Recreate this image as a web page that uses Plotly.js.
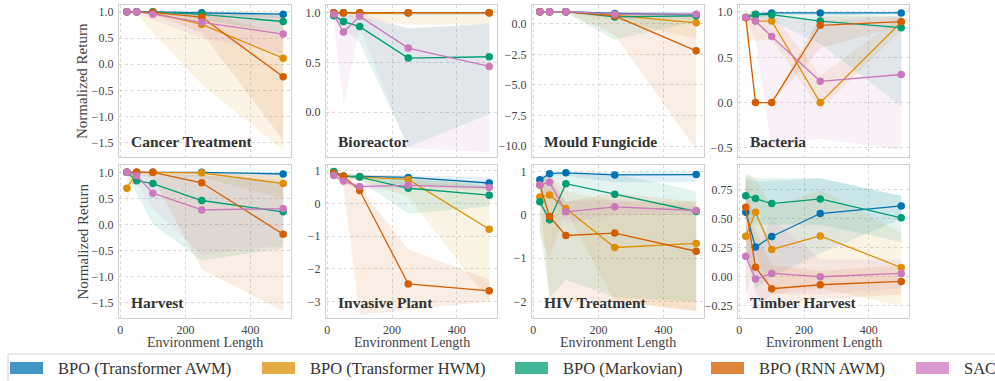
<!DOCTYPE html>
<html>
<head>
<meta charset="utf-8">
<script src="https://cdn.plot.ly/plotly-3.0.1.min.js"></script>
<style>
html,body{margin:0;padding:0;background:#fff;}
#chart{width:995px;height:381px;}
</style>
</head>
<body>
<div id="chart"></div>
<script>
// ---------- data ----------
const envLengths = [20, 50, 100, 250, 500];
const methods = ["BPO (Transformer AWM)", "BPO (Transformer HWM)", "BPO (Markovian)", "BPO (RNN AWM)", "SAC"];
const colors = ["#0173b2", "#de8f05", "#029e73", "#d55e00", "#cc78bc"];
const envNames = ["Cancer Treatment", "Bioreactor", "Mould Fungicide", "Bacteria",
                  "Harvest", "Invasive Plant", "HIV Treatment", "Timber Harvest"];
const xTicks = [0, 200, 400];

// order of rows in each table: AWM, HWM, Markovian, RNN AWM, SAC
const cancerMean = [[1.0,1.0,1.0,0.98,0.955],[1.0,1.0,0.98,0.76,0.115],[1.0,1.0,1.0,0.95,0.815],[1.0,1.0,0.99,0.90,-0.24],[1.0,1.0,0.955,0.80,0.575]];
const cancerLo   = [[0.99,0.99,0.99,0.93,0.88],[0.99,0.97,0.6,-0.38,-1.64],[0.99,0.99,0.97,0.85,0.6],[0.99,0.99,0.95,0.6,-1.45],[0.99,0.98,0.85,0.5,0.2]];
const cancerHi   = [[1,1,1,1,0.99],[1,1,1,1,0.58],[1,1,1,1,0.97],[1,1,1,1,0.95],[1,1,1,1,0.9]];

const bioMean = [[1,1,1,1,1],[1,1,0.99,1.0,1.0],[0.97,0.91,0.86,0.544,0.557],[1,1,1,1,1],[0.983,0.805,0.963,0.644,0.46]];
const bioLo   = [[0.99,0.99,0.98,0.98,0.98],[0.98,0.97,0.93,0.88,0.88],[0.93,0.85,0.7,-0.35,-0.02],[0.99,0.99,0.99,0.98,0.98],[0.93,0.08,0.85,-0.36,-0.4]];
const bioHi   = [[1,1,1,1,1],[1,1,1,1,1],[1,0.98,0.96,0.84,0.89],[1,1,1,1,1],[1,1,1,0.84,0.88]];

const mouldMean = [[1,1,1,0.86,0.74],[1,1,0.99,0.71,0.09],[1,1,1,0.57,0.66],[1,1,1,0.66,-2.2],[1,1,1,0.8,0.8]];
const mouldLo   = [[0.99,0.99,0.98,0.6,0.5],[0.99,0.98,0.95,0.3,-1.2],[0.99,0.98,0.9,-1.3,0.2],[0.99,0.99,0.95,-0.9,-10.3],[0.99,0.99,0.98,0.55,0.6]];
const mouldHi   = [[1,1,1,1,1],[1,1,1,0.98,0.9],[1,1,1,0.95,0.95],[1,1,1,0.95,0.8],[1,1,1,0.95,0.95]];

const bactMean = [[0.94,0.97,0.99,0.99,0.99],[0.94,0.9,0.9,0.0,0.89],[0.94,0.974,0.97,0.9,0.827],[0.94,0.0,0.0,0.853,0.893],[0.94,0.9,0.73,0.235,0.31]];
const bactLo   = [[0.9,0.93,0.97,0.97,0.97],[0.7,0.68,0.7,-0.08,0.8],[0.9,0.93,0.9,0.65,-0.04],[0.9,0.0,0.0,0.6,0.85],[0.88,0.7,-0.5,-0.4,-0.52]];
const bactHi   = [[0.97,1,1,1,1],[1,1,1,0.3,0.95],[0.97,1,1,1,0.95],[0.97,0.0,0.0,0.95,0.95],[0.97,1,0.98,0.9,0.95]];

const harvMean = [[1,1,1,1,0.968],[0.695,1,1,0.99,0.784],[1,0.84,0.784,0.46,0.243],[1,1,1,0.8,-0.185],[1,0.936,0.6,0.28,0.306]];
const harvLo   = [[0.99,0.99,0.99,0.97,0.9],[0.4,0.98,0.97,0.9,0.5],[0.99,0.6,0.0,-0.69,-0.45],[0.99,0.97,0.9,-0.86,-1.66],[0.99,0.8,0.3,-0.58,-0.4]];
const harvHi   = [[1,1,1,1,1],[0.95,1,1,1,0.95],[1,0.98,0.98,0.95,0.85],[1,1,1,1,0.9],[1,1,0.95,0.95,0.8]];

const invMean = [[0.95,0.83,0.82,0.79,0.62],[0.9,0.83,0.8,0.73,-0.79],[0.97,0.83,0.80,0.46,0.25],[0.92,0.83,0.39,-2.46,-2.67],[0.85,0.68,0.51,0.55,0.48]];
const invLo   = [[0.9,0.78,0.75,0.55,0.45],[0.85,0.75,0.7,0.2,-3.0],[0.93,0.78,0.7,-0.32,-0.1],[0.88,0.5,-3.4,-3.25,-3.0],[0.8,0.6,0.4,0.45,0.4]];
const invHi   = [[0.98,0.88,0.88,0.85,0.8],[0.95,0.9,0.87,0.85,0.5],[0.99,0.88,0.87,0.75,0.6],[0.95,0.88,0.5,-1.4,-2.33],[0.9,0.75,0.6,0.65,0.55]];

const hivMean = [[0.81,0.95,0.97,0.92,0.93],[0.41,0.46,0.146,-0.754,-0.66],[0.3,-0.115,0.72,0.477,0.077],[0.69,-0.04,-0.477,-0.42,-0.84],[0.69,0.75,0.07,0.185,0.1]];
const hivLo   = [[0.7,0.9,0.9,0.75,0.75],[-0.5,-1.0,0.1,-2.0,-2.2],[-0.3,-1.92,-1.5,-1.9,-2.0],[0.5,-1.9,-2.0,-2.0,-2.23],[0.5,0.5,-0.2,0.0,0.0]];
const hivHi   = [[0.9,1.0,0.99,0.99,0.99],[0.9,0.9,0.55,0.3,0.3],[0.8,0.9,0.95,0.95,0.55],[0.85,0.8,0.3,0.5,0.3],[0.85,0.95,0.3,0.35,0.2]];

const timbMean = [[0.557,0.256,0.348,0.546,0.612],[0.35,0.557,0.236,0.353,0.08],[0.70,0.675,0.632,0.672,0.509],[0.60,0.083,-0.103,-0.069,-0.04],[0.178,-0.02,0.029,0.0,0.029]];
const timbLo   = [[0.2,-0.1,0.0,0.2,0.5],[-0.18,0.2,-0.15,-0.1,-0.25],[0.5,0.45,0.45,0.45,0.3],[0.3,-0.15,-0.25,-0.2,-0.15],[-0.1,-0.3,-0.15,-0.15,-0.1]];
const timbHi   = [[0.85,0.82,0.83,0.85,0.70],[0.9,0.85,0.6,0.75,0.38],[0.88,0.85,0.85,0.85,0.7],[0.88,0.4,0.1,0.05,0.1],[0.45,0.2,0.5,0.15,0.15]];

// ---------- layout helpers ----------
const W = 995, H = 381;
const colPx = [[119,291],[326,497],[532,704],[738,909]];
const rowPx = [[5,157],[165,318]];
const FONT = "Liberation Serif";

const envs = [
  {mean:cancerMean, lo:cancerLo, hi:cancerHi, range:[-1.77,1.13], dtick:0.5, fmt:'.1f'},
  {mean:bioMean, lo:bioLo, hi:bioHi, range:[-0.45,1.077], dtick:0.5, fmt:'.1f'},
  {mean:mouldMean, lo:mouldLo, hi:mouldHi, range:[-10.9,1.55], dtick:2.5, fmt:'.1f'},
  {mean:bactMean, lo:bactLo, hi:bactHi, range:[-0.6,1.077], dtick:0.5, fmt:'.1f'},
  {mean:harvMean, lo:harvLo, hi:harvHi, range:[-1.79,1.14], dtick:0.5, fmt:'.1f'},
  {mean:invMean, lo:invLo, hi:invHi, range:[-3.5,1.17], dtick:1, fmt:'d'},
  {mean:hivMean, lo:hivLo, hi:hivHi, range:[-2.38,1.15], dtick:1, fmt:'d'},
  {mean:timbMean, lo:timbLo, hi:timbHi, range:[-0.356,0.965], dtick:0.25, fmt:'.2f'}
];

function rgba(hex, a){
  const r=parseInt(hex.slice(1,3),16), g=parseInt(hex.slice(3,5),16), b=parseInt(hex.slice(5,7),16);
  return `rgba(${r},${g},${b},${a})`;
}

const fillTraces = [], lineTraces = [];
const layout = {
  width: W, height: H,
  margin: {l:0, r:0, t:0, b:0},
  paper_bgcolor: '#fff', plot_bgcolor: '#fff',
  showlegend: false,
  font: {family: FONT, color: '#333'},
  annotations: [], shapes: []
};

envs.forEach((env, i) => {
  const k = i + 1;
  const row = Math.floor(i / 4), col = i % 4;
  const xa = k === 1 ? 'x' : 'x' + k, ya = k === 1 ? 'y' : 'y' + k;
  const xName = k === 1 ? 'xaxis' : 'xaxis' + k, yName = k === 1 ? 'yaxis' : 'yaxis' + k;
  layout[xName] = {
    domain: [colPx[col][0]/W, colPx[col][1]/W], anchor: ya,
    range: [-4, 524], tickvals: xTicks, showticklabels: row === 1,
    tickfont: {family: FONT, size: 12, color: '#444'},
    showgrid: true, gridcolor: '#cfcfcf', griddash: 'dot', gridwidth: 0.8,
    zeroline: false, showline: true, mirror: true, linecolor: '#d0d0d0', linewidth: 1.2,
    ticks: '', ticklabelstandoff: 0, fixedrange: true
  };
  layout[yName] = {
    domain: [1 - rowPx[row][1]/H, 1 - rowPx[row][0]/H], anchor: xa,
    range: env.range, dtick: env.dtick, tick0: 0, tickformat: env.fmt,
    tickfont: {family: FONT, size: 12, color: '#444'},
    showgrid: true, gridcolor: '#cfcfcf', griddash: 'dot', gridwidth: 0.8,
    zeroline: false, showline: true, mirror: true, linecolor: '#d0d0d0', linewidth: 1.2,
    ticks: '', ticklabelstandoff: 2, fixedrange: true
  };
  methods.forEach((m, j) => {
    fillTraces.push({
      type: 'scatter', mode: 'none', xaxis: xa, yaxis: ya,
      x: envLengths.concat(envLengths.slice().reverse()),
      y: env.hi[j].concat(env.lo[j].slice().reverse()),
      fill: 'toself', fillcolor: rgba(colors[j], 0.11),
      line: {width: 0}, hoverinfo: 'skip', name: m
    });
    lineTraces.push({
      type: 'scatter', mode: 'lines+markers', xaxis: xa, yaxis: ya,
      x: envLengths, y: env.mean[j], name: m,
      line: {color: colors[j], width: 1.3},
      marker: {color: colors[j], size: 7.5}
    });
  });
  layout.annotations.push({
    xref: xa + ' domain', yref: ya + ' domain', x: 0.06, y: 0.1,
    xanchor: 'left', yanchor: 'middle', showarrow: false,
    text: '<b>' + envNames[i] + '</b>',
    font: {family: FONT, size: 15.5, color: '#333'}
  });
});

// axis titles
rowPx.forEach(r => {
  layout.annotations.push({
    xref: 'paper', yref: 'paper', x: 82/W, y: 1 - (r[0]+r[1])/2/H,
    xanchor: 'center', yanchor: 'middle', textangle: -90, showarrow: false,
    text: 'Normalized Return', font: {family: FONT, size: 15, color: '#444'}
  });
});
colPx.forEach(c => {
  layout.annotations.push({
    xref: 'paper', yref: 'paper', x: (c[0]+c[1])/2/W, y: 1 - 342/H,
    xanchor: 'center', yanchor: 'middle', showarrow: false,
    text: 'Environment Length', font: {family: FONT, size: 14, color: '#444'}
  });
});

// legend box
layout.shapes.push({
  type: 'rect', xref: 'paper', yref: 'paper',
  x0: 8/W, x1: 1.02, y0: -0.05, y1: 1 - 354/H,
  line: {color: '#d0d0d0', width: 1}, fillcolor: 'rgba(255,255,255,0.8)', layer: 'above'
});
const patchX = [10, 262, 515, 711, 916];
methods.forEach((m, j) => {
  layout.shapes.push({
    type: 'rect', xref: 'paper', yref: 'paper',
    x0: patchX[j]/W, x1: (patchX[j]+33)/W, y0: 1 - 374/H, y1: 1 - 362/H,
    line: {width: 0}, fillcolor: rgba(colors[j], 0.75), layer: 'above'
  });
  layout.annotations.push({
    xref: 'paper', yref: 'paper', x: (patchX[j]+46)/W, y: 1 - 368/H,
    xanchor: 'left', yanchor: 'middle', showarrow: false,
    text: m, font: {family: FONT, size: 16.5, color: '#333'}
  });
});

Plotly.newPlot('chart', fillTraces.concat(lineTraces), layout, {displayModeBar: false, staticPlot: true});
</script>
</body>
</html>
